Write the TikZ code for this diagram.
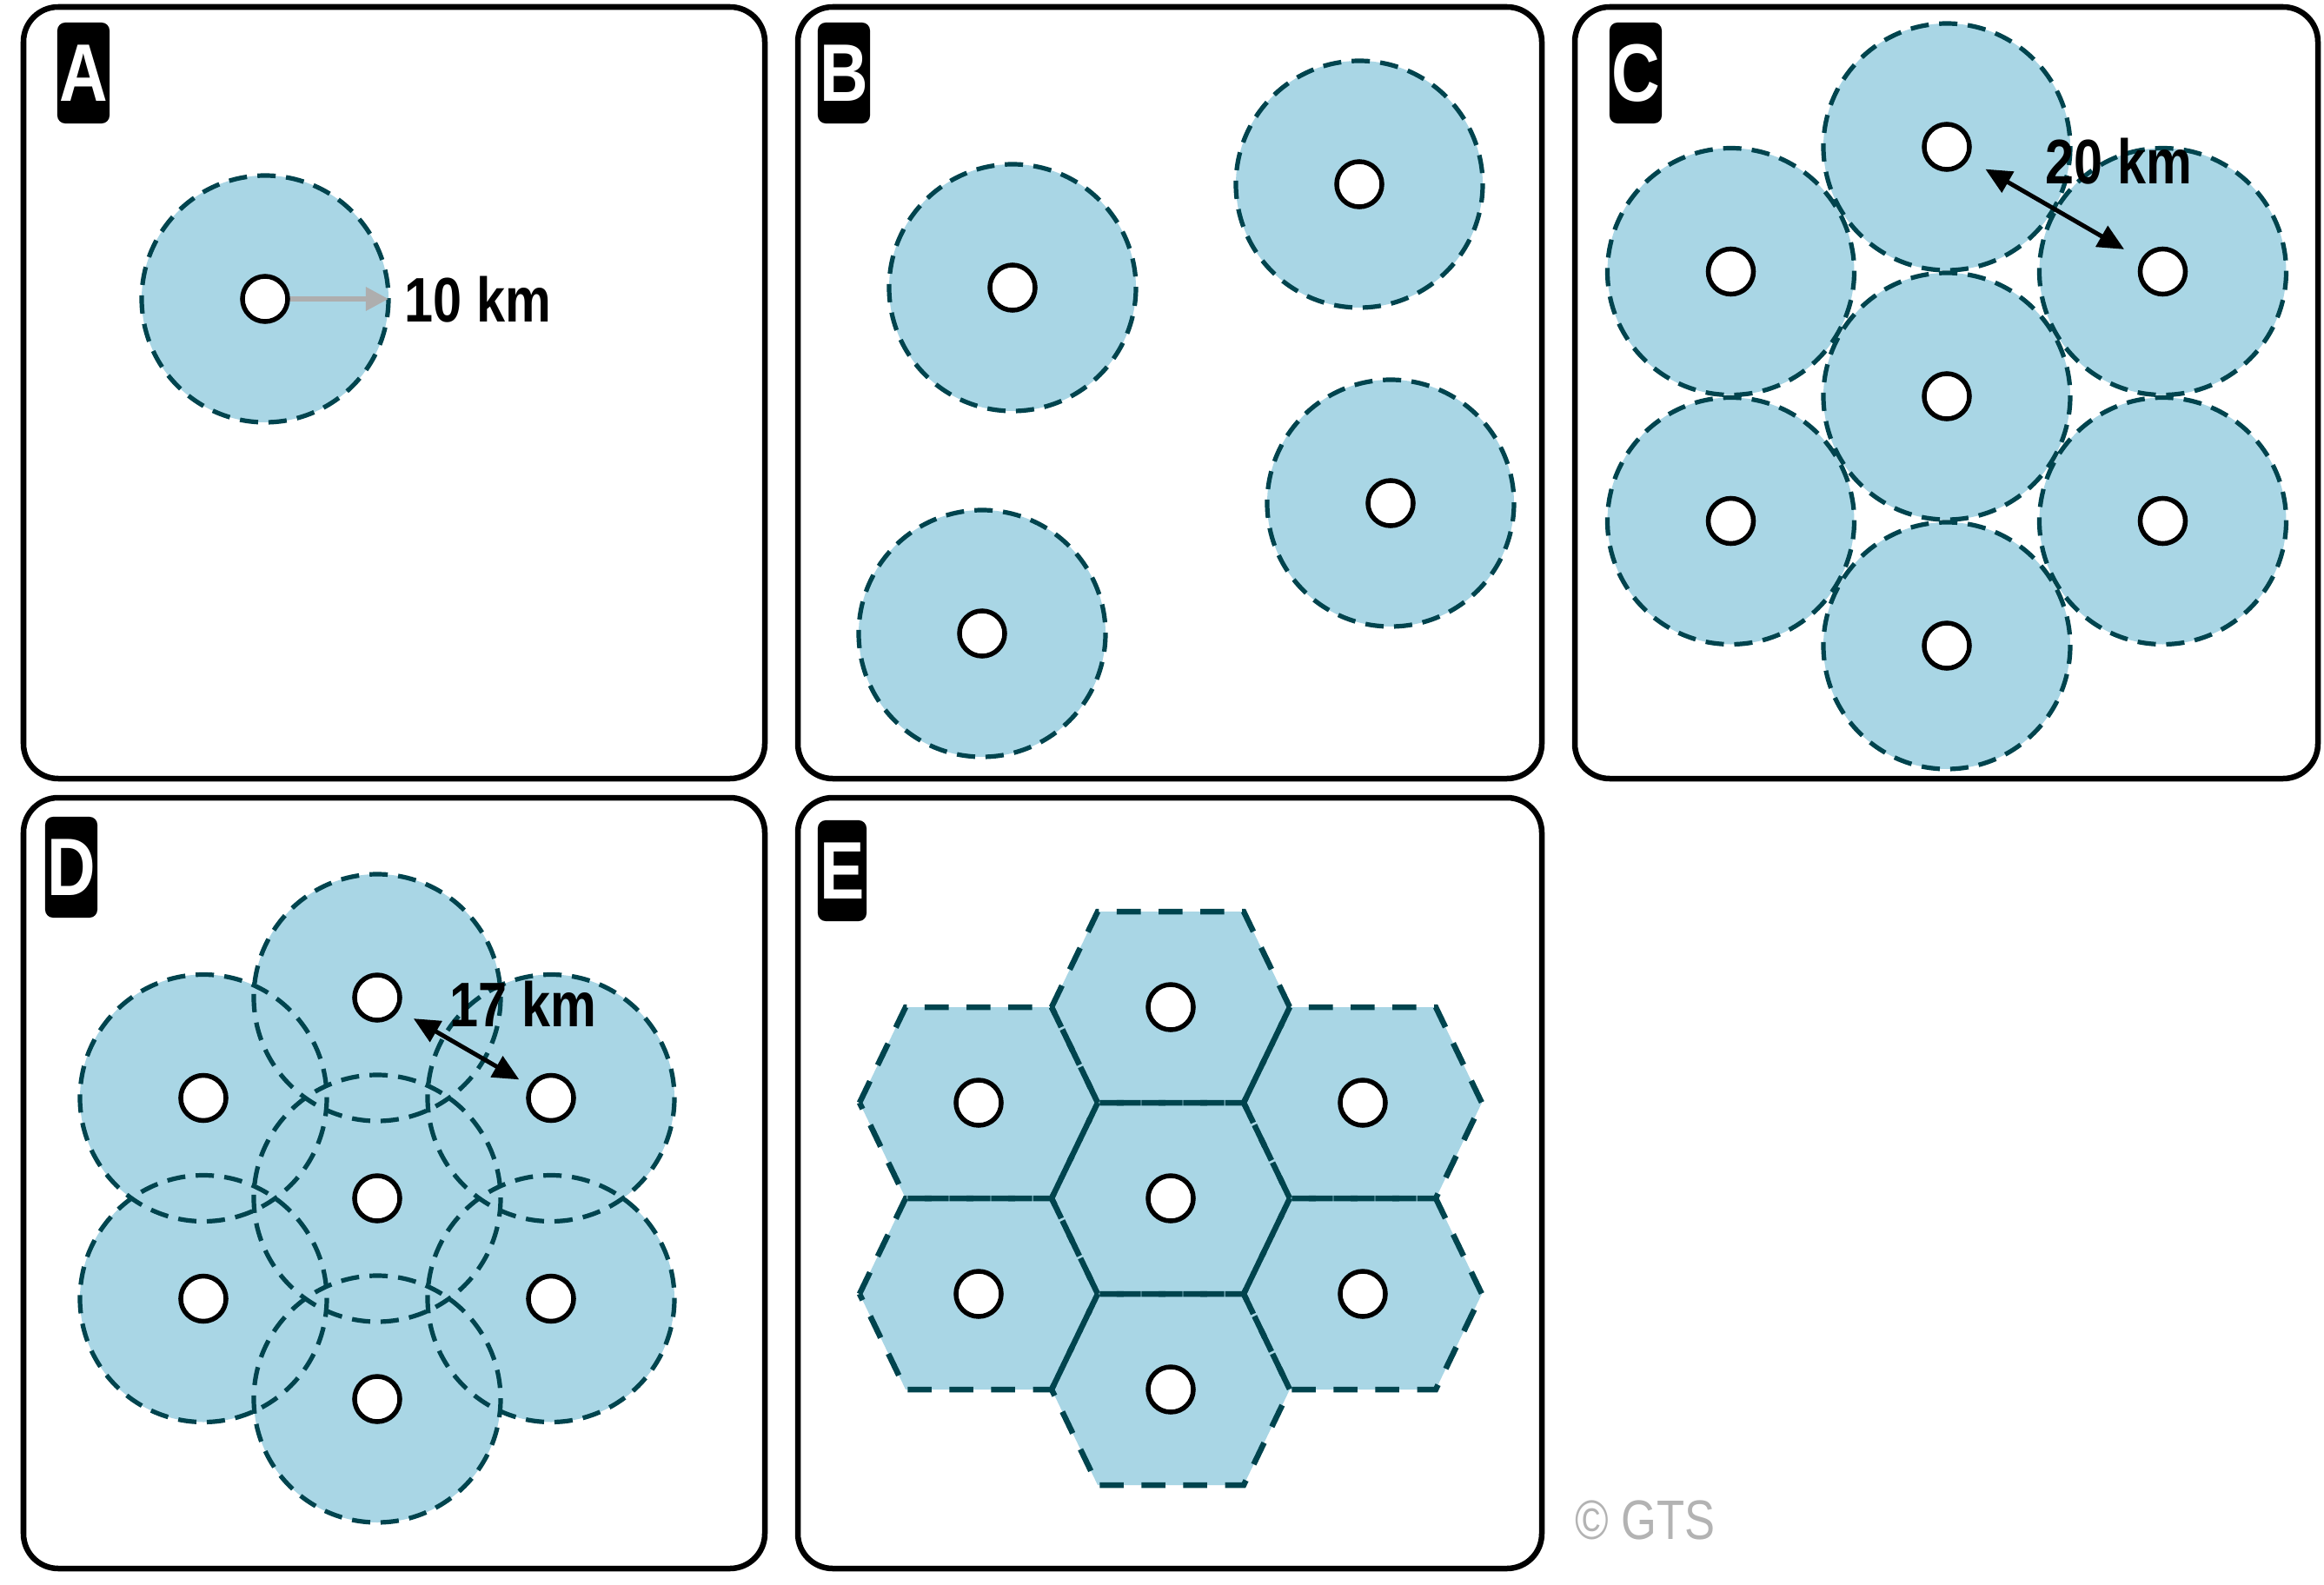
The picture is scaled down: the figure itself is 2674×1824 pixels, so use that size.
\documentclass[tikz,border=0pt]{standalone}
\usepackage{fontspec}
\setmainfont{Liberation Sans}
\newfontfamily\narrowfont[FakeStretch=0.82]{Liberation Sans}
\usetikzlibrary{arrows.meta,calc}
\definecolor{cellfill}{HTML}{A9D6E5}
\definecolor{celledge}{HTML}{00444E}
\definecolor{gtsgray}{HTML}{B3B3B3}
\definecolor{arrowgray}{HTML}{AEAEAE}
\begin{document}
\begin{tikzpicture}[x=0.01cm,y=-0.01cm,
  panel/.style={draw=black,line width=0.065cm,rounded corners=0.4cm},
  badge/.style={fill=black,rounded corners=0.09cm,inner sep=0pt,minimum width=0.6cm,minimum height=1.16cm,text=white,font=\narrowfont\bfseries\fontsize{26.7pt}{30pt}\selectfont},
  celloutline/.style={draw=celledge,line width=0.052cm,dash pattern=on 0.21cm off 0.12cm},
  hexoutline/.style={draw=celledge,line width=0.065cm,dash pattern=on 0.275cm off 0.205cm},
  site/.style={circle,draw=black,fill=white,line width=0.055cm,minimum size=0.52cm,inner sep=0pt},
  kmlabel/.style={anchor=base west,inner sep=0pt,font=\narrowfont\bfseries\fontsize{20.6pt}{24pt}\selectfont},
  dimarrow/.style={{Triangle[length=0.3cm,width=0.27cm]}-{Triangle[length=0.3cm,width=0.27cm]},line width=0.05cm,draw=black},
]
\useasboundingbox[fill=white] (0,0) rectangle (2674,1824);

% panels
\draw[panel] (27,8) rectangle (880,896);
\draw[panel] (918,8) rectangle (1774,896);
\draw[panel] (1812,8) rectangle (2667,896);
\draw[panel] (27,918) rectangle (880,1805);
\draw[panel] (918,918) rectangle (1774,1805);

% badges
\node[badge] (bA) at (96,84) {A};
\node[badge] (bB) at (971,84) {B};
\node[badge] (bC) at (1882,84) {C};
\node[badge] (bD) at (82,998) {D};
\node[badge,minimum width=0.56cm] (bE) at (969,1002) {E};

% ---------- A ----------
\coordinate (Ac) at (305,344);
\fill[cellfill] (Ac) circle (142);
\draw[celloutline] (Ac) circle (142);
\node[site] (A0) at (Ac) {};
\coordinate (Aedge) at (447,344);
\draw[line width=0.06cm,draw=arrowgray,-{Triangle[length=0.26cm,width=0.26cm]}] (A0) -- (Aedge);
\node[kmlabel] (Alab) at (465,370) {10 km};

% ---------- B ----------
\coordinate (Bc1) at (1165,331);
\coordinate (Bc2) at (1564,212);
\coordinate (Bc3) at (1600,579);
\coordinate (Bc4) at (1130,729);
\foreach \n in {1,2,3,4}{
  \fill[cellfill] (Bc\n) circle (142);
  \draw[celloutline] (Bc\n) circle (142);
  \node[site] (B\n) at (Bc\n) {};
}

% ---------- C ----------
\coordinate (Cc0) at (2240,456);
\coordinate (Cc1) at (2240,169);
\coordinate (Cc2) at (2488.5,312.5);
\coordinate (Cc3) at (2488.5,599.5);
\coordinate (Cc4) at (2240,743);
\coordinate (Cc5) at (1991.5,599.5);
\coordinate (Cc6) at (1991.5,312.5);
\foreach \n in {0,...,6}{\fill[cellfill] (Cc\n) circle (142);}
\foreach \n in {0,...,6}{\draw[celloutline] (Cc\n) circle (142);}
\foreach \n in {0,...,6}{\node[site] (C\n) at (Cc\n) {};}
\draw[dimarrow,shorten <=0.225cm,shorten >=0.225cm] (C1) -- (C2);
\node[kmlabel] (Clab) at (2353,211) {20 km};

% ---------- D ----------
\coordinate (Dc0) at (434,1379);
\coordinate (Dc1) at (434,1148);
\coordinate (Dc2) at (634,1263.5);
\coordinate (Dc3) at (634,1494.5);
\coordinate (Dc4) at (434,1610);
\coordinate (Dc5) at (234,1494.5);
\coordinate (Dc6) at (234,1263.5);
\foreach \n in {0,...,6}{\fill[cellfill] (Dc\n) circle (142);}
\foreach \n in {0,...,6}{\draw[celloutline] (Dc\n) circle (142);}
\foreach \n in {0,...,6}{\node[site] (D\n) at (Dc\n) {};}
\draw[dimarrow,shorten <=0.195cm,shorten >=0.135cm] (D1) -- (D2);
\node[kmlabel] (Dlab) at (517,1181) {17 km};

% ---------- E ----------
\coordinate (Ec0) at (1347,1379);
\coordinate (Ec1) at (1347,1159);
\coordinate (Ec2) at (1568,1269);
\coordinate (Ec3) at (1568,1489);
\coordinate (Ec4) at (1347,1599);
\coordinate (Ec5) at (1126,1489);
\coordinate (Ec6) at (1126,1269);
\foreach \n in {0,...,6}{
  \fill[cellfill] (Ec\n) +(-137,0) -- +(-84,-110) -- +(84,-110) -- +(137,0) -- +(84,110) -- +(-84,110) -- cycle;
}
\foreach \n in {0,...,6}{
  \draw[hexoutline] (Ec\n) +(-137,0) -- +(-84,-110) -- +(84,-110) -- +(137,0) -- +(84,110) -- +(-84,110) -- cycle;
}
\foreach \n in {0,...,6}{\node[site] (E\n) at (Ec\n) {};}

% copyright
\node[anchor=base west,inner sep=0pt,text=gtsgray,font=\narrowfont\fontsize{18.2pt}{21pt}\selectfont] (gts) at (1812,1771) {© GTS};
\end{tikzpicture}
\end{document}
